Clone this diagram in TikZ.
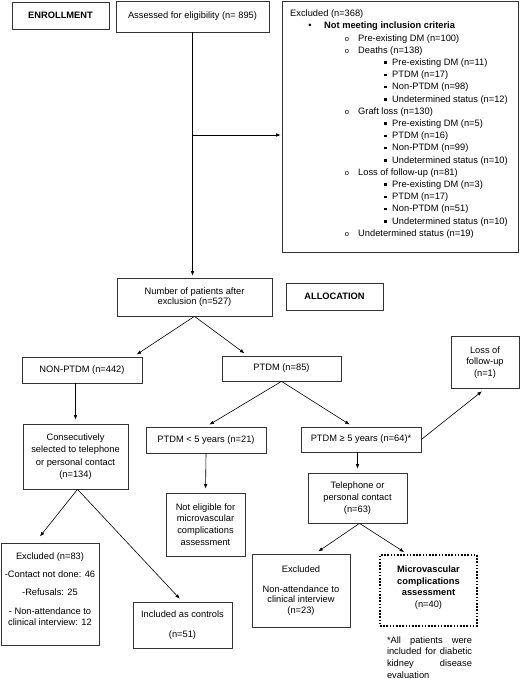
\documentclass[tikz,border=0pt]{standalone}
\usepackage{fontspec}
\setmainfont{Liberation Sans}
\usetikzlibrary{arrows.meta}

\tikzset{
  box/.style={draw=black!80, line width=0.7pt, align=center, inner sep=2pt},
  tight/.style={font=\fontsize{9.3}{10.5}\selectfont},
  arr/.style={-{Latex[length=4.5pt,width=3.6pt]}, line width=0.6pt, shorten >=4pt},
  dotbox/.style={draw=black, line width=1.6pt, dash pattern=on 1.6pt off 1.6pt, align=center}
}

\begin{document}
\begin{tikzpicture}[x=1pt, y=-1pt, font=\fontsize{9.3}{11.7}\selectfont]
    \useasboundingbox (0,0) rectangle (520,680);
    % boxes
    \node[box, minimum width=97pt, minimum height=27pt] (enroll) at (60.5,15.5) {\textbf{ENROLLMENT}};
    \node[box, minimum width=153pt, minimum height=31pt] (assess) at (192.5,16.5) {Assessed for eligibility (n= 895)};
    \node[box, minimum width=236pt, minimum height=251pt] (excl) at (400,126.5) {};
    \foreach \lv/\txt [count=\i from 0] in {0/{Excluded (n=368)}, 1/{Not meeting inclusion criteria},
        2/{Pre-existing DM (n=100)}, 2/{Deaths (n=138)}, 3/{Pre-existing DM (n=11)}, 3/{PTDM (n=17)},
        3/{Non-PTDM (n=98)}, 3/{Undetermined status (n=12)}, 2/{Graft loss (n=130)}, 3/{Pre-existing DM (n=5)},
        3/{PTDM (n=16)}, 3/{Non-PTDM (n=99)}, 3/{Undetermined status (n=10)}, 2/{Loss of follow-up (n=81)},
        3/{Pre-existing DM (n=3)}, 3/{PTDM (n=17)}, 3/{Non-PTDM (n=51)}, 3/{Undetermined status (n=10)},
        2/{Undetermined status (n=19)}}{
      \pgfmathsetmacro{\yy}{16.6+12.2*\i}
      \ifcase\lv\relax
        \node[anchor=base west, inner sep=0] (ex\i) at (290,\yy) {\txt};
      \or
        \node[anchor=base, inner sep=0] (exb\i) at (310,\yy) {\textbullet};
        \node[anchor=base west, inner sep=0] (ex\i) at (324,\yy) {\textbf{\txt}};
      \or
        \node[anchor=base, inner sep=0, font=\fontsize{7.5}{8}\selectfont] (exb\i) at (347,\yy) {o};
        \node[anchor=base west, inner sep=0] (ex\i) at (358,\yy) {\txt};
      \or
        \node[anchor=base, inner sep=0] (exb\i) at (385.5,\yy) {\rule[1.4pt]{2.6pt}{2.6pt}};
        \node[anchor=base west, inner sep=0] (ex\i) at (392,\yy) {\txt};
      \fi
    }
    \node[box, tight, minimum width=155pt, minimum height=38pt] (num) at (194.5,297) {Number of patients after\\ exclusion (n=527)};
    \node[box, minimum width=97pt, minimum height=27pt] (alloc) at (334.5,296.5) {\textbf{ALLOCATION}};
    \node[box, minimum width=120pt, minimum height=26pt] (nonptdm) at (82,370) {NON-PTDM (n=442)};
    \node[box, minimum width=119pt, minimum height=25pt] (ptdm) at (281.5,368.5) {PTDM (n=85)};
    \node[box, minimum width=68pt, minimum height=52pt] (loss) at (485,362.5) {Loss of\\ follow-up\\ (n=1)};
    \node[box, font=\fontsize{9.3}{12.3}\selectfont, minimum width=105pt, minimum height=65pt] (consec) at (75.5,456.5) {Consecutively\\ selected to telephone\\ or personal contact\\ (n=134)};
    \node[box, minimum width=120pt, minimum height=26pt] (lt5) at (206,440) {PTDM < 5 years (n=21)};
    \node[box, minimum width=120pt, minimum height=25pt] (ge5) at (361,439.5) {PTDM ≥ 5 years (n=64)*};
    \node[box, minimum width=99pt, minimum height=50pt] (phone) at (357.5,498) {Telephone or\\ personal contact\\ (n=63)};
    \node[box, minimum width=79pt, minimum height=63pt] (noelig) at (205.5,524.5) {Not eligible for\\ microvascular\\ complications\\ assessment};
    \node[box, tight, minimum width=98pt, minimum height=102pt] (exc83) at (50,594) {Excluded (n=83)\\[7.5pt] -Contact not done: 46\\[7.5pt] -Refusals: 25\\[8.5pt] - Non-attendance to\\ clinical interview: 12\\[-1pt]\mbox{}};
    \node[box, minimum width=99pt, minimum height=46pt] (incl) at (182.5,625) {Included as controls\\[7.5pt] (n=51)};
    \node[box, tight, minimum width=98pt, minimum height=73pt] (exc23) at (301,590.5) {Excluded\\[9.5pt] Non-attendance to\\ clinical interview\\ (n=23)};
    \node[dotbox, minimum width=97pt, minimum height=71pt] (micro) at (428.5,590.5) {\textbf{Microvascular}\\ \textbf{complications}\\ \textbf{assessment}\\ (n=40)\\[-4pt]\mbox{}};
    \node[align=left, inner sep=0] (note) at (429.5,657.5) {\makebox[85pt][s]{*All patients were}\\ \makebox[85pt][s]{included for diabetic}\\ \makebox[85pt][s]{kidney disease}\\ evaluation};
    % connectors
    \coordinate (br) at (assess.south |- 0,135);
    \draw[arr, shorten >=2pt] (assess.south) -- (assess.south |- num.north);
    \draw[arr, shorten >=1pt] (br) -- (br -| excl.west);
    \draw[arr] (num.south) -- ([xshift=-9pt]nonptdm.north east);
    \draw[arr] (num.south) -- ([xshift=26pt]ptdm.north west);
    \draw[arr] (consec.north |- nonptdm.south) -- (consec.north);
    \draw[arr] (ptdm.south) -- (lt5.north);
    \draw[arr] (ptdm.south) -- ([xshift=-8pt]ge5.north);
    \draw[arr] (ge5.east) -- (loss.south);
    \draw[arr] (lt5.south) -- (noelig.north);
    \draw[arr] (phone.north |- ge5.south) -- (phone.north);
    \draw[arr, shorten >=8pt] ([xshift=2pt]consec.south) -- ([xshift=-15pt]exc83.north);
    \draw[arr] ([xshift=2pt]consec.south) -- (incl.north);
    \draw[arr] ([xshift=2pt]phone.south) -- ([xshift=14pt]exc23.north);
    \draw[arr] ([xshift=2pt]phone.south) -- ([xshift=-21pt]micro.north);
\end{tikzpicture}
\end{document}
